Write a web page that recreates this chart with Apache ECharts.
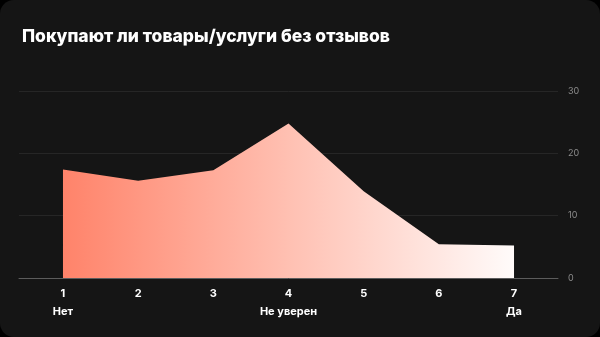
<!DOCTYPE html>
<html><head><meta charset="utf-8">
<script src="https://cdn.jsdelivr.net/npm/echarts@6/dist/echarts.min.js"></script>
<style>
html,body{margin:0;padding:0;background:#000;width:600px;height:337px;overflow:hidden}
#card{position:absolute;left:0;top:0;width:600px;height:337px;background:#151515;border-radius:14px;overflow:hidden}
#c{width:600px;height:337px}
</style></head><body>
<div id="card"><div id="c"></div></div>
<script>
const title = 'Покупают ли товары/услуги без отзывов';
const categories = [1, 2, 3, 4, 5, 6, 7];
const catLabels = ['Нет', '', '', 'Не уверен', '', '', 'Да'];
const values = [17.4, 15.6, 17.3, 24.8, 13.9, 5.4, 5.2];
const yTicks = [0, 10, 20, 30];

const chart = echarts.init(document.getElementById('c'), null, {renderer: 'canvas'});
chart.setOption({
  backgroundColor: 'transparent',
  animation: false,
  title: {
    text: title, left: 17, top: 23,
    textStyle: {color: '#ffffff', fontFamily: 'Inter', fontWeight: 800, fontSize: 17.5}
  },
  grid: {left: 19, right: 42, top: 91, bottom: 59, containLabel: false},
  xAxis: {
    type: 'value', min: 0.415, max: 7.585,
    axisLine: {show: true, lineStyle: {color: '#5c5c5c', width: 1}},
    axisTick: {show: false},
    splitLine: {show: false},
    axisLabel: {
      customValues: categories,
      margin: 5,
      formatter: function (v) {
        const i = categories.indexOf(v);
        return '{n|' + v + '}\n{l|' + (catLabels[i] || ' ') + '}';
      },
      rich: {
        n: {color: '#ffffff', fontFamily: 'Inter', fontWeight: 'bold', fontSize: 11, height: 22, align: 'center'},
        l: {color: '#ffffff', fontFamily: 'Inter', fontWeight: 'bold', fontSize: 11, height: 14, align: 'center'}
      }
    }
  },
  yAxis: {
    type: 'value', position: 'right', min: 0, max: 30, interval: 10,
    axisLine: {show: false}, axisTick: {show: false},
    splitLine: {lineStyle: {color: '#262626', width: 1}},
    axisLabel: {color: '#8c8c8c', fontFamily: 'Inter', fontSize: 9, margin: 10,
      formatter: v => yTicks.includes(v) ? String(v) : ''}
  },
  series: [{
    type: 'line',
    data: categories.map((c, i) => [c, values[i]]),
    symbol: 'none',
    lineStyle: {width: 0},
    areaStyle: {
      opacity: 1,
      color: new echarts.graphic.LinearGradient(0, 0, 1, 0, [
        {offset: 0, color: '#ff836a'},
        {offset: 0.5, color: '#ffc0b2'},
        {offset: 1, color: '#fffbfa'}
      ])
    }
  }]
});
</script>
</body></html>
